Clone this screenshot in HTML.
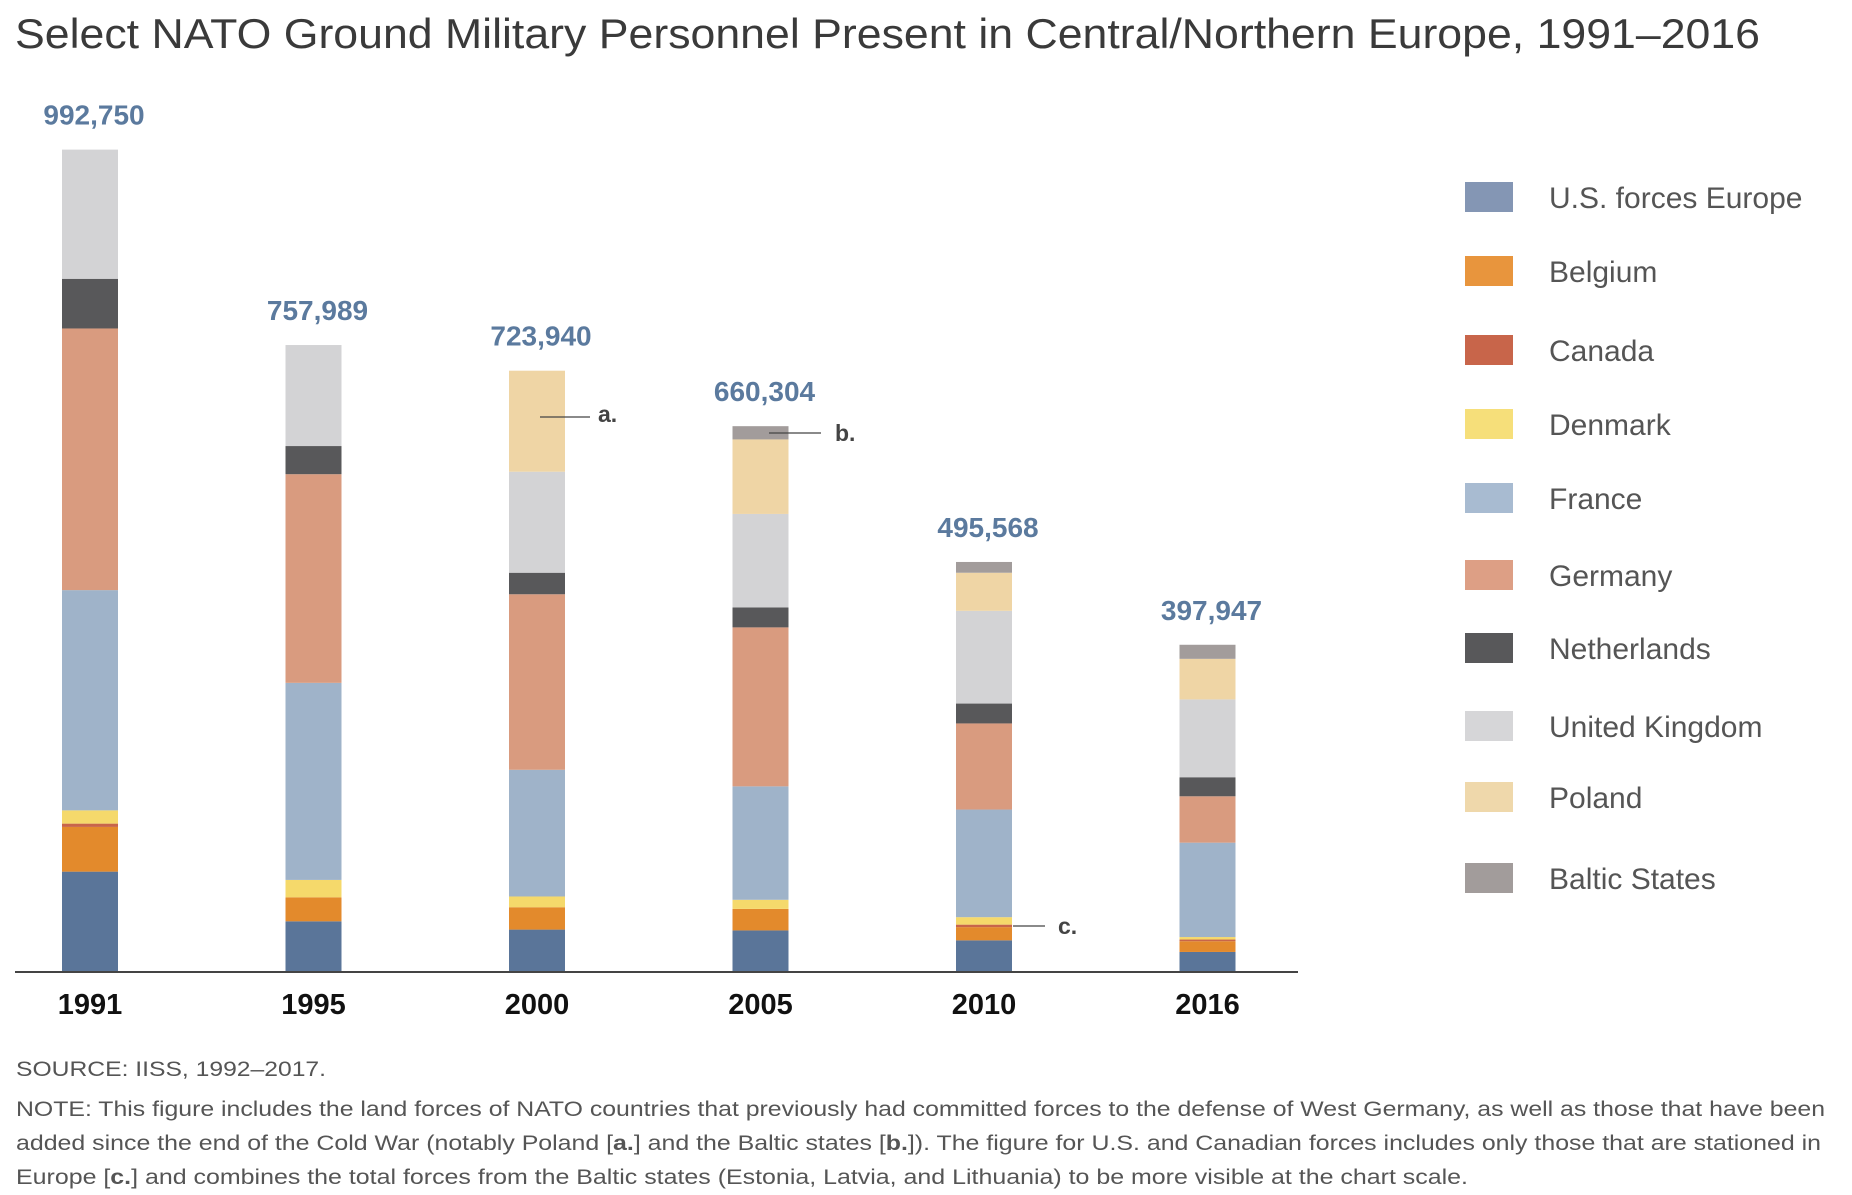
<!DOCTYPE html>
<html><head><meta charset="utf-8"><style>
html,body{margin:0;padding:0;background:#fff;}
svg{display:block;font-family:"Liberation Sans",Arial,sans-serif;}
</style></head><body>
<svg id="chart" width="1852" height="1195" viewBox="0 0 1852 1195">
<text x="15" y="48" font-size="42" fill="#3a3a3a" textLength="1745" lengthAdjust="spacingAndGlyphs">Select NATO Ground Military Personnel Present in Central/Northern Europe, 1991–2016</text>
<g id="bars"></g>
<line x1="15" y1="972" x2="1298" y2="972" stroke="#444" stroke-width="2"/>
<g id="legend"></g>
<g>
<line x1="540" y1="417" x2="590" y2="417" stroke="#444" stroke-width="1.2"/>
<text x="598" y="422" font-size="23" font-weight="bold" fill="#444">a.</text>
<line x1="769" y1="433" x2="821" y2="433" stroke="#444" stroke-width="1.2"/>
<text x="835" y="441" font-size="23" font-weight="bold" fill="#444">b.</text>
<line x1="1013" y1="926" x2="1045" y2="926" stroke="#444" stroke-width="1.2"/>
<text x="1058" y="934" font-size="23" font-weight="bold" fill="#444">c.</text>
</g>
<g fill="#555" font-size="21">
<text x="16" y="1076" textLength="310" lengthAdjust="spacingAndGlyphs">SOURCE: IISS, 1992–2017.</text>
<text x="16" y="1116" textLength="1809" lengthAdjust="spacingAndGlyphs">NOTE: This figure includes the land forces of NATO countries that previously had committed forces to the defense of West Germany, as well as those that have been</text>
<text x="16" y="1150" textLength="1805" lengthAdjust="spacingAndGlyphs">added since the end of the Cold War (notably Poland [<tspan font-weight="bold">a.</tspan>] and the Baltic states [<tspan font-weight="bold">b.</tspan>]). The figure for U.S. and Canadian forces includes only those that are stationed in</text>
<text x="16" y="1184" textLength="1452" lengthAdjust="spacingAndGlyphs">Europe [<tspan font-weight="bold">c.</tspan>] and combines the total forces from the Baltic states (Estonia, Latvia, and Lithuania) to be more visible at the chart scale.</text>
</g>
</svg>
<script>
const years = ["1991","1995","2000","2005","2010","2016"];
const totals = ["992,750","757,989","723,940","660,304","495,568","397,947"];
const seriesNames = ["U.S. forces Europe","Belgium","Canada","Denmark","France","Germany","Netherlands","United Kingdom","Poland","Baltic States"];
const usForces = [120000,60000,50000,49000,37000,23000];
const belgium = [54000,29000,27000,26000,16000,13000];
const canada = [4000,0,0,0,3000,2000];
const denmark = [16000,21000,13000,11000,9000,3000];
const france = [266000,238000,153000,137000,130000,114000];
const germany = [316000,252000,212000,192000,104000,56000];
const netherlands = [60000,34000,26000,24000,24000,23000];
const unitedKingdom = [156000,122000,122000,113000,112000,94000];
const poland = [0,0,122000,90000,46000,49000];
const baltic = [0,0,0,16000,13000,17000];

const series = [usForces,belgium,canada,denmark,france,germany,netherlands,unitedKingdom,poland,baltic];
const colors = ["#5a7599","#e38a2c","#c8654a","#f5d96b","#9fb3c9","#d99b7f","#58585a","#d3d3d5","#efd5a5","#a29c9b"];
const legendColors = ["#8496b4","#e8953d","#c8654a","#f6df7a","#a8bbd1","#dd9f85","#58585a","#d6d6d8","#efd8ab","#a29c9b"];
const NS = "http://www.w3.org/2000/svg";
const baseY = 971, pxPer = 822/992750;
function xCenter(i){ return 90 + i*223.5; }
function yScale(v){ return baseY - v*pxPer; }
const bars = document.getElementById('bars');
years.forEach((yr,i)=>{
  let cum = 0;
  series.forEach((s,j)=>{
    const v = s[i]; if(!v) return;
    const r = document.createElementNS(NS,'rect');
    r.setAttribute('x', xCenter(i)-28);
    r.setAttribute('width', 56);
    r.setAttribute('y', yScale(cum+v));
    r.setAttribute('height', yScale(cum)-yScale(cum+v));
    r.setAttribute('fill', colors[j]);
    
    
    bars.appendChild(r);
    cum += v;
  });
  const t = document.createElementNS(NS,'text');
  t.setAttribute('x', xCenter(i)+4);
  t.setAttribute('y', yScale(cum)-25);
  t.setAttribute('text-anchor','middle');
  t.setAttribute('font-size','28');
  t.setAttribute('font-weight','bold');
  t.setAttribute('fill','#5b7a9e');
  t.textContent = totals[i];
  
  
  bars.appendChild(t);
  const yl = document.createElementNS(NS,'text');
  yl.setAttribute('x', xCenter(i));
  yl.setAttribute('y', 1014);
  yl.setAttribute('text-anchor','middle');
  yl.setAttribute('font-size','29');
  yl.setAttribute('font-weight','bold');
  yl.setAttribute('fill','#111');
  yl.textContent = yr;
  
  
  bars.appendChild(yl);
});
const legendY = [197,271,350,424,498,575,648,726,797,878];
const legend = document.getElementById('legend');
seriesNames.forEach((n,j)=>{
  const r = document.createElementNS(NS,'rect');
  r.setAttribute('x',1465); r.setAttribute('y',legendY[j]-15);
  r.setAttribute('width',48); r.setAttribute('height',30);
  r.setAttribute('fill',legendColors[j]);
  
  
  legend.appendChild(r);
  const t = document.createElementNS(NS,'text');
  t.setAttribute('x',1549); t.setAttribute('y',legendY[j]+11);
  t.setAttribute('font-size','30'); t.setAttribute('fill','#555');
  t.textContent = n;
  
  
  legend.appendChild(t);
});
</script>
</body></html>
